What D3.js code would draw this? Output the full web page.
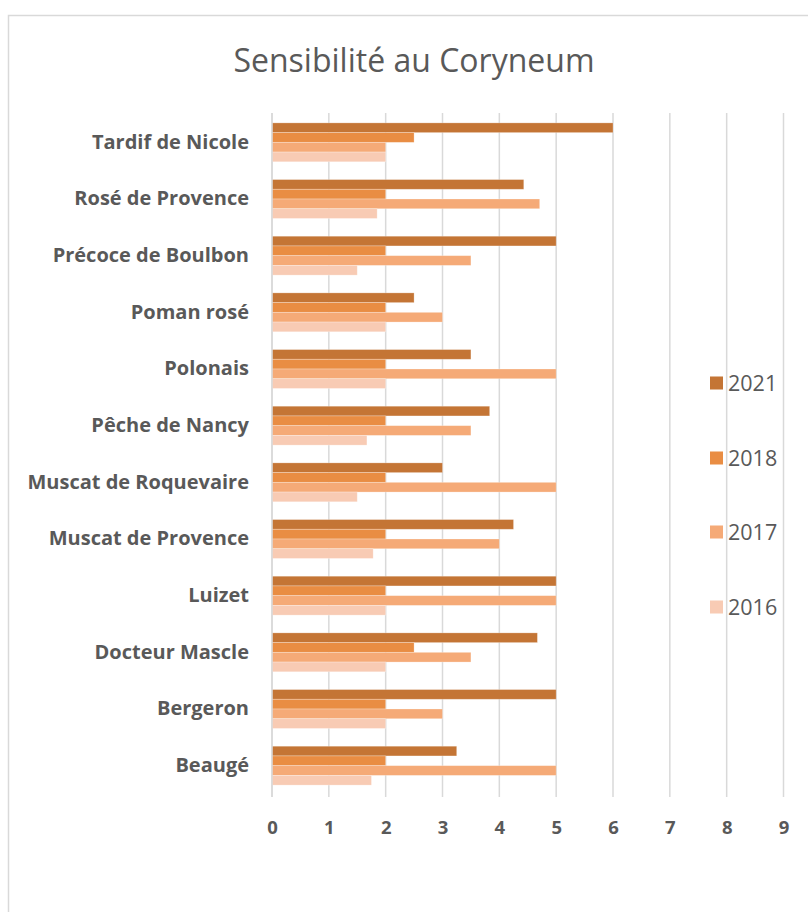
<!DOCTYPE html>
<html>
<head>
<meta charset="utf-8">
<script src="https://cdn.jsdelivr.net/npm/d3@7"></script>
<style>
  html, body { margin: 0; padding: 0; background: #fff; }
  svg { display: block; }
</style>
</head>
<body>
<svg id="chart" width="808" height="912"></svg>
<script>
const categories = ["Tardif de Nicole", "Rosé de Provence", "Précoce de Boulbon", "Poman rosé", "Polonais", "Pêche de Nancy", "Muscat de Roquevaire", "Muscat de Provence", "Luizet", "Docteur Mascle", "Bergeron", "Beaugé"];
const seriesNames = ["2021", "2018", "2017", "2016"];
const values2021 = [6, 4.43, 5, 2.5, 3.5, 3.83, 3, 4.25, 5, 4.67, 5, 3.25];
const values2018 = [2.5, 2, 2, 2, 2, 2, 2, 2, 2, 2.5, 2, 2];
const values2017 = [2, 4.71, 3.5, 3, 5, 3.5, 5, 4, 5, 3.5, 3, 5];
const values2016 = [2, 1.85, 1.5, 2, 2, 1.67, 1.5, 1.78, 2, 2, 2, 1.75];
const xTicks = [0, 1, 2, 3, 4, 5, 6, 7, 8, 9];
const colors = ["#C47535", "#E98D43", "#F5AA77", "#F8CBB4"];
const title = "Sensibilité au Coryneum";

const seriesValues = [values2021, values2018, values2017, values2016];
const svg = d3.select("#chart");
const font = "'Open Sans', Lato, sans-serif";
const textColor = "#595959";
const gridColor = "#d9d9d9";

// chart border
svg.append("rect").attr("x", 8.5).attr("y", 15.5).attr("width", 900).attr("height", 1000)
  .attr("fill", "#fff").attr("stroke", gridColor).attr("stroke-width", 1.5);

// title
svg.append("text").attr("x", 414).attr("y", 72).attr("text-anchor", "middle")
  .attr("font-family", font).attr("font-size", 32).attr("font-weight", 400)
  .attr("fill", textColor).text(title);

const x = d3.scaleLinear().domain([0, 9]).range([272, 783.5]);
const y0 = d3.scaleBand().domain(categories).range([113, 793]).paddingInner(0.3135).paddingOuter(0.1568);
const y1 = d3.scaleBand().domain(seriesNames).range([0, y0.bandwidth()]);

// gridlines
const grid = svg.append("g");
grid.selectAll("line").data(xTicks).join("line")
  .attr("x1", d => x(d)).attr("x2", d => x(d))
  .attr("y1", 113).attr("y2", 797)
  .attr("stroke", gridColor).attr("stroke-width", 1.5);

// bars
const groups = svg.append("g").selectAll("g").data(categories).join("g")
  .attr("transform", c => `translate(0,${y0(c) + 1})`);
groups.selectAll("rect").data((c, i) => seriesNames.map((s, j) => ({s, v: seriesValues[j][i], j})))
  .join("rect")
  .attr("x", x(0))
  .attr("y", d => y1(d.s))
  .attr("width", d => x(d.v) - x(0))
  .attr("height", y1.bandwidth())
  .attr("fill", d => colors[d.j])
  .attr("stroke", "rgba(255,255,255,0.35)")
  .attr("stroke-width", 0.75);

// y axis line
svg.append("line").attr("x1", x(0)).attr("x2", x(0)).attr("y1", 113).attr("y2", 797)
  .attr("stroke", gridColor).attr("stroke-width", 1.5);

// x axis labels
const xAxis = d3.axisBottom(x).tickValues(xTicks).tickSize(0).tickPadding(0);
const xg = svg.append("g").attr("transform", "translate(0,828)").call(xAxis);
xg.select(".domain").remove();
xg.selectAll("text").attr("font-family", font).attr("font-size", 18.5).attr("font-weight", 700)
  .attr("fill", textColor).attr("dy", "0.32em");

// y axis labels
const yAxis = d3.axisLeft(y0).tickSize(0).tickPadding(0);
const yg = svg.append("g").attr("transform", "translate(249,1)").call(yAxis);
yg.select(".domain").remove();
yg.selectAll("text").attr("font-family", font).attr("font-size", 20).attr("font-weight", 700)
  .attr("fill", textColor);

// legend
const legendY = [383, 458, 532, 607];
const legend = svg.append("g").selectAll("g").data(seriesNames).join("g")
  .attr("transform", (d, i) => `translate(710,${legendY[i]})`);
legend.append("rect").attr("x", 0).attr("y", -6.5).attr("width", 13).attr("height", 13)
  .attr("fill", (d, i) => colors[i]);
legend.append("text").attr("x", 18).attr("y", 0).attr("dy", "0.35em")
  .attr("font-family", font).attr("font-size", 21.5).attr("fill", textColor).text(d => d);
</script>
</body>
</html>
